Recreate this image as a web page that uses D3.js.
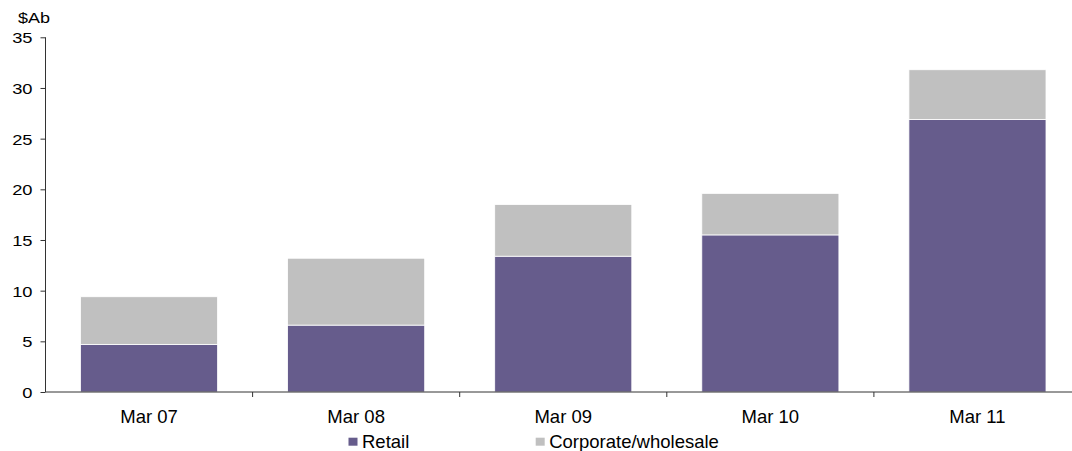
<!DOCTYPE html>
<html>
<head>
<meta charset="utf-8">
<script src="https://cdn.jsdelivr.net/npm/d3@7"></script>
<style>
  html, body { margin: 0; padding: 0; background: #fff; }
  svg text { font-family: "Liberation Sans", Arial, sans-serif; fill: #000; }
</style>
</head>
<body>
<svg id="chart" width="1072" height="451"></svg>
<script>
// Lending by segment, $A billions
const categories = ["Mar 07", "Mar 08", "Mar 09", "Mar 10", "Mar 11"];
const retail = [4.7, 6.6, 13.4, 15.5, 26.9];
const corporate = [4.7, 6.6, 5.1, 4.1, 4.9];
const seriesNames = ["Retail", "Corporate/wholesale"];
const seriesColors = ["#665C8C", "#C0C0C0"];
const yTicks = [0, 5, 10, 15, 20, 25, 30, 35];

const svg = d3.select("#chart");
const plotLeft = 45.5, plotRight = 1081, plotTop = 37.3, plotBottom = 392;

const x = d3.scaleBand().domain(categories).range([plotLeft, plotRight]).paddingInner(0.338).paddingOuter(0.169);
const y = d3.scaleLinear().domain([0, 35]).range([plotBottom, plotTop]);

const rows = categories.map((c, i) => ({ cat: c, Retail: retail[i], "Corporate/wholesale": corporate[i] }));
const stacked = d3.stack().keys(seriesNames)(rows);

// Widen a text horizontally while keeping its glyph height
function stretch(sel, factor) {
  sel.each(function () {
    const w = this.getComputedTextLength();
    d3.select(this).attr("textLength", w * factor).attr("lengthAdjust", "spacingAndGlyphs");
  });
}

// Stacked bars
svg.append("g").selectAll("g").data(stacked).join("g")
  .attr("fill", (d, i) => seriesColors[i])
  .selectAll("rect").data(d => d).join("rect")
  .attr("x", d => x(d.data.cat))
  .attr("width", x.bandwidth())
  .attr("y", d => y(d[1]))
  .attr("height", d => y(d[0]) - y(d[1]))
  .attr("stroke", "#fff")
  .attr("stroke-width", 0.8);

// Y axis
const yAxis = svg.append("g").attr("transform", `translate(${plotLeft},0)`)
  .call(d3.axisLeft(y).tickValues(yTicks).tickSize(5).tickPadding(8));
yAxis.select(".domain").attr("stroke", "#333").attr("d", `M0,${plotTop}V${plotBottom}`);
yAxis.selectAll(".tick line").attr("stroke", "#333");
yAxis.selectAll(".tick text").attr("font-size", 15).attr("fill", "#000").attr("dy", "0.36em");
stretch(yAxis.selectAll(".tick text"), 1.22);

// X axis with ticks between categories
const xAxis = svg.append("g").attr("transform", `translate(0,${plotBottom})`);
xAxis.append("line").attr("x1", plotLeft).attr("x2", plotRight).attr("stroke", "#333");
const step = x.step();
d3.range(categories.length).forEach(i => {
  const bx = plotLeft + step * (i + 1);
  xAxis.append("line").attr("x1", bx).attr("x2", bx).attr("y1", 0).attr("y2", 5).attr("stroke", "#333");
});
xAxis.selectAll("text.cat").data(categories).join("text")
  .attr("class", "cat")
  .attr("x", d => x(d) + x.bandwidth() / 2)
  .attr("y", 31.3)
  .attr("text-anchor", "middle")
  .attr("font-size", 18.5)
  .text(d => d);

// Unit label
const unit = svg.append("text").attr("x", 18).attr("y", 22.5).attr("font-size", 15).text("$Ab");
stretch(unit, 1.2);

// Legend
const legendX = [348.5, 535.7];
const legend = svg.append("g").selectAll("g").data(seriesNames).join("g")
  .attr("transform", (d, i) => `translate(${legendX[i]},437.7)`);
legend.append("rect").attr("width", 9).attr("height", 8).attr("fill", (d, i) => seriesColors[i]);
legend.append("text").attr("x", 13.5).attr("y", 10).attr("font-size", 18.5).text(d => d);
</script>
</body>
</html>
